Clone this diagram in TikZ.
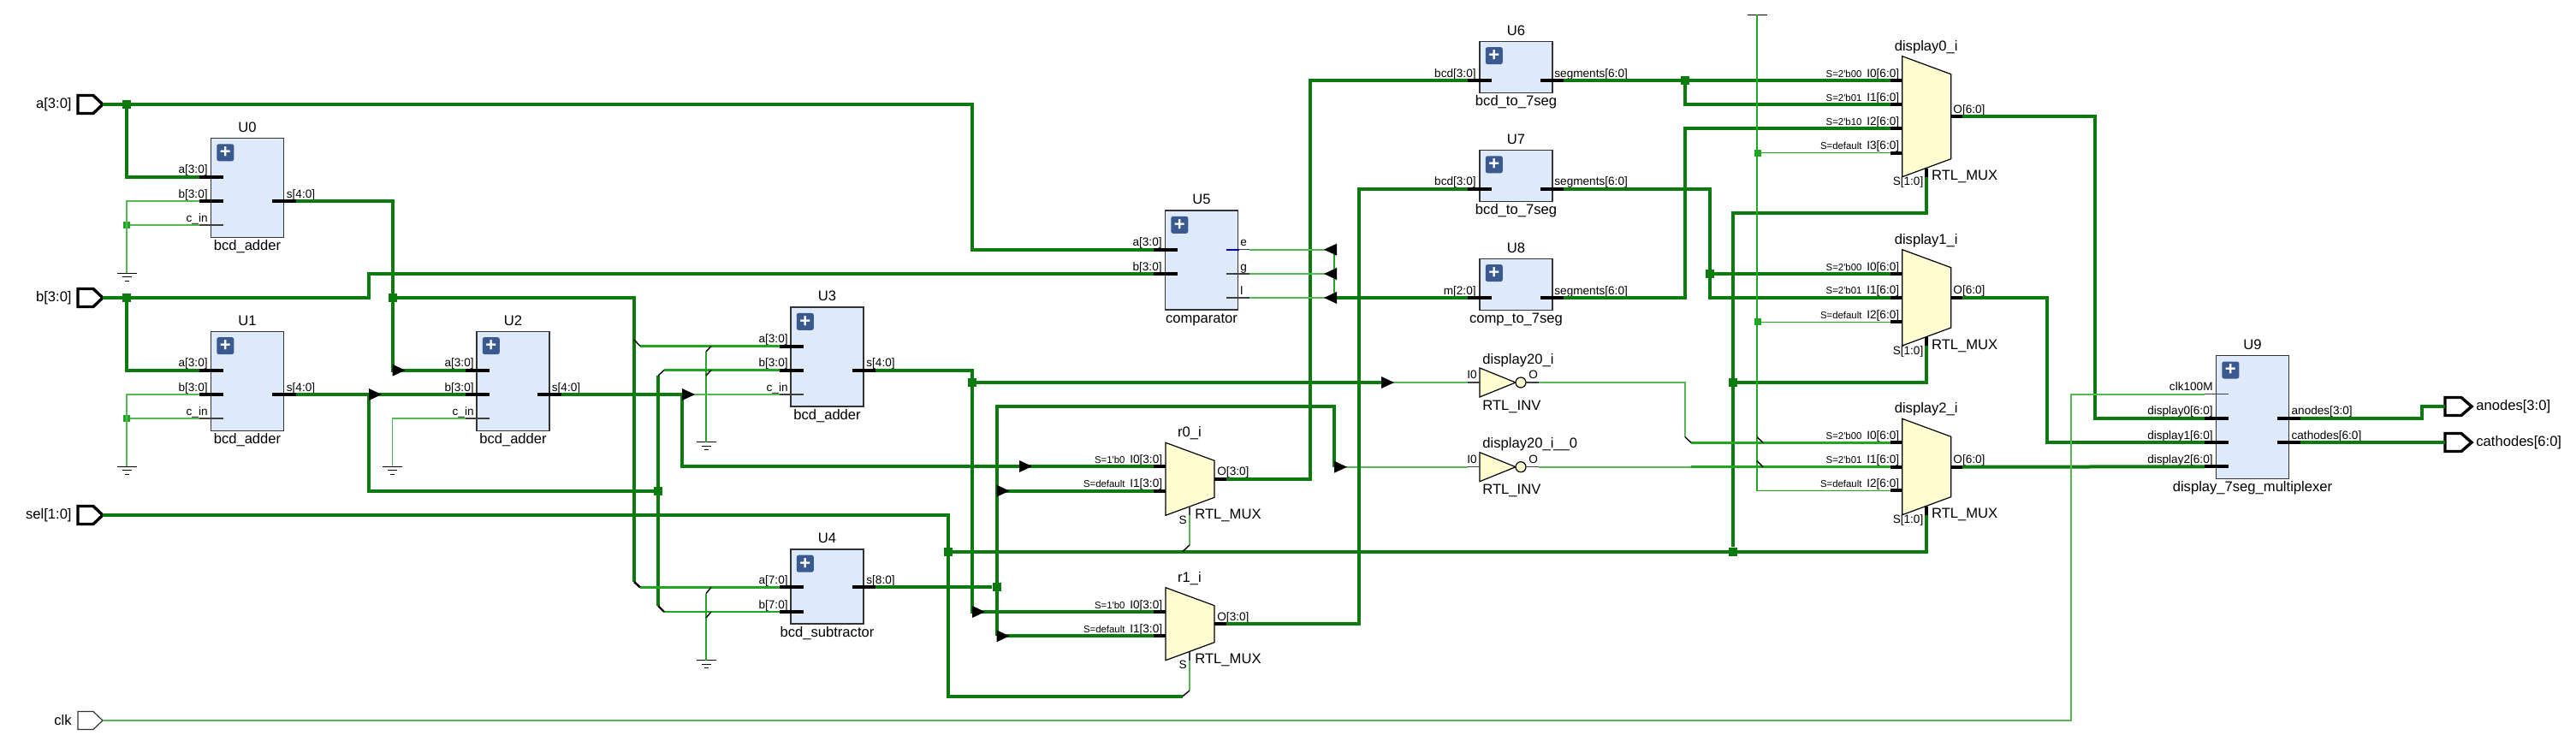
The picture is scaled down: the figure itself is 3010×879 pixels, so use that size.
\documentclass[tikz,border=0pt]{standalone}
\usepackage{fontspec}
\setmainfont{Liberation Sans}
\usetikzlibrary{positioning,arrows.meta,calc}
\definecolor{busgreen}{HTML}{0B7A0F}
\definecolor{netgreen}{HTML}{22A522}
\definecolor{lightgreen}{HTML}{55B855}
\definecolor{blockblue}{HTML}{DEE9F9}
\definecolor{btnblue}{HTML}{3A5A8F}
\definecolor{muxyellow}{HTML}{FEFCD0}
\tikzset{
    bus/.style={draw=busgreen,line width=2pt},
    net/.style={draw=netgreen,line width=1.4pt},
    thinnet/.style={draw=lightgreen,line width=0.8pt},
    rip/.style={draw=black,line width=0.7pt},
    pinbus/.style={draw=black,line width=2pt},
    pinthin/.style={draw=black!75,line width=0.6pt},
    portbox/.style={draw=black,line width=1.7pt,fill=white,line join=miter},
    portthin/.style={draw=black!80,line width=0.6pt,fill=white,line join=miter},
    hier/.style={draw=black!80,line width=0.6pt,fill=blockblue,minimum width=42.5pt,inner sep=0pt},
    muxshape/.style={draw=black,line width=0.6pt,fill=muxyellow,line join=miter},
    plusbtn/.style={fill=btnblue,rounded corners=1.2pt,minimum size=10pt,inner sep=0pt,text=white,font=\fontsize{11}{11}\selectfont\bfseries},
    celltext/.style={inner sep=0pt,font=\fontsize{8.3}{10}\selectfont},
    pintext/.style={inner sep=0pt,font=\fontsize{6.8}{8}\selectfont},
    seltext/.style={inner sep=0pt,font=\fontsize{5.7}{7}\selectfont},
    junc/.style={fill=busgreen,minimum size=5pt,inner sep=0pt},
    juncnet/.style={fill=netgreen,minimum size=4pt,inner sep=0pt},
}
% cell with its name above and its type below
\newcommand{\hierblock}[5]{
    \node[hier,minimum height=#4*0.5pt] (#1) at (#2,#3) {};
    \node[plusbtn,anchor=north west] (#1-btn) at ([xshift=3.5pt,yshift=-3.5pt]#1.north west) {+};
    \node[celltext,anchor=base] (#1-name) at ([yshift=3.3pt]#1.north) {#1};
    \node[celltext,anchor=base] (#1-type) at ([yshift=-7.3pt]#1.south) {#5};
}
% pins: the coordinate is the outer end of the stub
\newcommand{\pinleft}[5][pinbus]{
    \coordinate (#2) at (#3,#4);
    \draw[#1] (#2) -- ++(28,0);
    \node[pintext,anchor=base east] (#2-t) at (#3+10,#4-4) {#5};
}
\newcommand{\pinright}[5][pinbus]{
    \coordinate (#2) at (#3+27.5,#4);
    \draw[#1] (#2) -- ++(-27.5,0);
    \node[pintext,anchor=base west] (#2-t) at (#3+16.5,#4-4) {#5};
}
\newcommand{\muxbox}[5]{
    \draw[muxshape] (#2,#3) -- (#2+57,#3+21) -- (#2+57,#3+#4-21) -- (#2,#3+#4) -- cycle;
    \coordinate (#1-s) at (#2+28,#3+#4);
    \node[celltext,anchor=base] (#1-name) at (#2+28,#3-6.5) {#1\_i};
    \node[celltext,anchor=base west] (#1-type) at (#2+34,#3+#4+4) {RTL\_MUX};
    \node[pintext,anchor=base east] (#1-stext) at (#2+25,#3+#4+10) {#5};
}
\newcommand{\muxpin}[5]{
    \coordinate (#1) at (#2,#3);
    \draw[pinbus] (#1) -- ++(14,0);
    \node[pintext,anchor=base east] (#1-t) at (#2+10.5,#3-4) {#4};
    \node[seltext,anchor=base east] (#1-sel) at ([xshift=-2.5pt]#1-t.base west) {#5};
}
\newcommand{\muxout}[4]{
    \coordinate (#1) at (#2+14,#3);
    \draw[pinbus] (#1) -- ++(-14,0);
    \node[pintext,anchor=base west] (#1-t) at (#2+3,#3-4) {#4};
}
\newcommand{\invbox}[3]{
    \draw[muxshape] (1729,#2-17) -- (1771,#2) -- (1729,#2+17) -- cycle;
    \draw[muxshape] (1777,#2) circle (3pt);
    \coordinate (#1-i) at (1715,#2);
    \coordinate (#1-o) at (1798,#2);
    \draw[pinthin] (#1-i) -- ++(14,0);
    \draw[pinthin] (#1-o) -- ++(-15,0);
    \node[pintext,anchor=base east] (#1-it) at (1726,#2-4.5) {I0};
    \node[pintext,anchor=base west] (#1-ot) at (1786,#2-4.5) {O};
    \node[celltext,anchor=base west] (#1-name) at (1732,#2-22) {#3};
    \node[celltext,anchor=base west] (#1-type) at (1732,#2+32) {RTL\_INV};
}
\newcommand{\inport}[4][portbox]{
    \coordinate (#2) at (120,#3);
    \draw[#1] (91,#3-10.5) -- (109,#3-10.5) -- (#2) -- (109,#3+10.5) -- (91,#3+10.5) -- cycle;
    \node[celltext,anchor=east] (#2-t) at (84,#3) {#4};
}
\newcommand{\outport}[3]{
    \coordinate (#1) at (2857,#2);
    \draw[portbox] (#1) -- ++(0,-10.5) -- ++(19,0) -- ++(12,10.5) -- ++(-12,10.5) -- ++(-19,0) -- cycle;
    \node[celltext,anchor=west] (#1-t) at (2893,#2) {#3};
}
\newcommand{\groundsym}[3]{
    \coordinate (#1) at (#2,#3);
    \draw[black,line width=0.5pt] (#2-11.5,#3) -- (#2+11.5,#3) (#2-5.5,#3+4.7) -- (#2+5.5,#3+4.7) (#2-2.5,#3+9) -- (#2+2.5,#3+9);
}
\newcommand{\tipright}[1]{\fill (#1) ++(0,-7) -- ++(15,7) -- ++(-15,7) -- cycle;}
\newcommand{\tipleft}[1]{\fill (#1) ++(0,-7) -- ++(-15,7) -- ++(15,7) -- cycle;}
\begin{document}
\begin{tikzpicture}[x=0.5pt,y=-0.5pt]
    \useasboundingbox (0,0) rectangle (3010,879);
    % cells
    \hierblock{U0}{289}{219.5}{116}{bcd\_adder}
    \hierblock{U1}{289}{445.3}{116}{bcd\_adder}
    \hierblock{U2}{599.5}{445.3}{116}{bcd\_adder}
    \hierblock{U3}{966.5}{417}{116}{bcd\_adder}
    \hierblock{U4}{966.5}{685.4}{87}{bcd\_subtractor}
    \hierblock{U5}{1404}{304}{116}{comparator}
    \hierblock{U6}{1771.5}{78.3}{60}{bcd\_to\_7seg}
    \hierblock{U7}{1771.5}{205.5}{60}{bcd\_to\_7seg}
    \hierblock{U8}{1771.5}{332.3}{60}{comp\_to\_7seg}
    \hierblock{U9}{2632}{487.7}{144}{display\_7seg\_multiplexer}
    \pinleft{U0-a}{233}{206.7}{a[3:0]}
    \pinleft{U0-b}{233}{235}{b[3:0]}
    \pinleft[pinthin]{U0-c}{233}{263}{c\_in}
    \pinright{U0-s}{318}{235}{s[4:0]}
    \pinleft{U1-a}{233}{432.7}{a[3:0]}
    \pinleft{U1-b}{233}{461}{b[3:0]}
    \pinleft[pinthin]{U1-c}{233}{489}{c\_in}
    \pinright{U1-s}{318}{461}{s[4:0]}
    \pinleft{U2-a}{544}{432.7}{a[3:0]}
    \pinleft{U2-b}{544}{461}{b[3:0]}
    \pinleft[pinthin]{U2-c}{544}{489}{c\_in}
    \pinright{U2-s}{628}{461}{s[4:0]}
    \pinleft{U3-a}{911}{404.5}{a[3:0]}
    \pinleft{U3-b}{911}{432.5}{b[3:0]}
    \pinleft[pinthin]{U3-c}{911}{461}{c\_in}
    \pinright{U3-s}{995.5}{432.5}{s[4:0]}
    \pinleft{U4-a}{911}{686.4}{a[7:0]}
    \pinleft{U4-b}{911}{715}{b[7:0]}
    \pinright{U4-s}{995.5}{686.4}{s[8:0]}
    \pinleft{U5-a}{1348}{291.7}{a[3:0]}
    \pinleft{U5-b}{1348}{320}{b[3:0]}
    \pinright[pinthin]{U5-e}{1432.5}{291.7}{e}
    \pinright[pinthin]{U5-g}{1432.5}{320}{g}
    \pinright[pinthin]{U5-l}{1432.5}{348}{l}
    \draw[blue!80!black,line width=1.2pt] (U5-e) ++(-27.5,0) -- ++(15,0);
    \pinleft{U6-i}{1715}{94}{bcd[3:0]}
    \pinright{U6-o}{1799.5}{94}{segments[6:0]}
    \pinleft{U7-i}{1715}{220.7}{bcd[3:0]}
    \pinright{U7-o}{1799.5}{220.7}{segments[6:0]}
    \pinleft{U8-i}{1715}{348}{m[2:0]}
    \pinright{U8-o}{1799.5}{348}{segments[6:0]}
    \pinleft[pinthin]{U9-clk}{2576}{460.7}{clk100M}
    \pinleft{U9-d0}{2576}{488.7}{display0[6:0]}
    \pinleft{U9-d1}{2576}{517}{display1[6:0]}
    \pinleft{U9-d2}{2576}{545.3}{display2[6:0]}
    \pinright{U9-an}{2660.7}{488.7}{anodes[3:0]}
    \pinright{U9-ca}{2660.7}{517}{cathodes[6:0]}
    % muxes and inverters
    \muxbox{r0}{1362}{517.3}{85}{S}
    \muxpin{r0-i0}{1348}{545}{I0[3:0]}{S=1\textquotesingle b0}
    \muxpin{r0-i1}{1348}{573.7}{I1[3:0]}{S=default}
    \muxout{r0-o}{1419}{559.7}{O[3:0]}
    \muxbox{r1}{1362}{686.7}{85}{S}
    \muxpin{r1-i0}{1348}{715}{I0[3:0]}{S=1\textquotesingle b0}
    \muxpin{r1-i1}{1348}{743.3}{I1[3:0]}{S=default}
    \muxout{r1-o}{1419}{729}{O[3:0]}
    \muxbox{display0}{2222.7}{65.7}{141}{S[1:0]}
    \muxpin{d0-i0}{2209}{94}{I0[6:0]}{S=2\textquotesingle b00}
    \muxpin{d0-i1}{2209}{122}{I1[6:0]}{S=2\textquotesingle b01}
    \muxpin{d0-i2}{2209}{150}{I2[6:0]}{S=2\textquotesingle b10}
    \muxpin{d0-i3}{2209}{178.7}{I3[6:0]}{S=default}
    \muxout{d0-o}{2279}{136}{O[6:0]}
    \muxbox{display1}{2222.7}{291.7}{112.3}{S[1:0]}
    \muxpin{d1-i0}{2209}{320}{I0[6:0]}{S=2\textquotesingle b00}
    \muxpin{d1-i1}{2209}{347.7}{I1[6:0]}{S=2\textquotesingle b01}
    \muxpin{d1-i2}{2209}{376.3}{I2[6:0]}{S=default}
    \muxout{d1-o}{2279}{347.7}{O[6:0]}
    \muxbox{display2}{2222.7}{489.3}{112.4}{S[1:0]}
    \muxpin{d2-i0}{2209}{517.3}{I0[6:0]}{S=2\textquotesingle b00}
    \muxpin{d2-i1}{2209}{545.7}{I1[6:0]}{S=2\textquotesingle b01}
    \muxpin{d2-i2}{2209}{573.3}{I2[6:0]}{S=default}
    \muxout{d2-o}{2279}{545.7}{O[6:0]}
    \draw[pinthin] (r0-s) -- ++(0,-10);
    \draw[pinthin] (r1-s) -- ++(0,-10);
    \draw[pinbus] (display0-s) -- ++(0,-10);
    \draw[pinbus] (display1-s) -- ++(0,-10);
    \draw[pinbus] (display2-s) -- ++(0,-10);
    \invbox{inv0}{447}{display20\_i}
    \invbox{inv1}{545.7}{display20\_i\_\_0}
    % ports and supplies
    \inport{pa}{122}{a[3:0]}
    \inport{pb}{348}{b[3:0]}
    \inport{psel}{602}{sel[1:0]}
    \inport[portthin]{pclk}{842}{clk}
    \outport{pan}{475}{anodes[3:0]}
    \outport{pca}{517}{cathodes[6:0]}
    \groundsym{g0}{148}{319}
    \groundsym{g1}{148}{545}
    \groundsym{g2}{458.5}{545}
    \groundsym{g3}{825}{516.5}
    \groundsym{g4}{825}{771.5}
    \coordinate (vcc) at (2053,17);
    \draw[black,line width=0.5pt] (2042,17) -- (2065,17);
    % route points
    \node[junc] (jA) at (148,122) {};
    \node[junc] (jB) at (148,348) {};
    \node[juncnet] (jC) at (148,263) {};
    \node[juncnet] (jD) at (148,489) {};
    \node[junc] (jE) at (458.5,348) {};
    \node[junc] (jF) at (769,574) {};
    \node[junc] (jG) at (1136,447) {};
    \node[junc] (jH) at (1164.5,686.4) {};
    \node[junc] (jI) at (1108,644.6) {};
    \node[junc] (jJ) at (2025,644.6) {};
    \node[junc] (jK) at (2025,446.7) {};
    \node[junc] (jL) at (1969,94) {};
    \node[junc] (jM) at (1998,320) {};
    \node[juncnet] (jN) at (2054,178.7) {};
    \node[juncnet] (jO) at (2054,376.3) {};
    \coordinate (aTop) at (1136,122);
    \coordinate (bRise) at (431,348);
    \coordinate (t1) at (458.5,432.7);
    \coordinate (t2) at (431,461);
    \coordinate (t3) at (797,461);
    \coordinate (t4) at (1191,545);
    \coordinate (t5) at (1136,715);
    \coordinate (t6) at (1614,447);
    \coordinate (t7) at (1559,545.7);
    \coordinate (t8) at (1164.5,573.7);
    \coordinate (t9) at (1164.5,743.3);
    \coordinate (t10) at (1562,291.7);
    \coordinate (t11) at (1562,320);
    \coordinate (t12) at (1562,348);
    \coordinate (hTop) at (1164.5,475);
    \coordinate (colA) at (1559,291.7);
    \coordinate (colB) at (1559,348);
    \coordinate (rA1) at (741,397);
    \coordinate (rA1e) at (748,404.5);
    \coordinate (rA2) at (741,680);
    \coordinate (rA2e) at (748,686.4);
    \coordinate (rB1) at (769,439);
    \coordinate (rB1e) at (776,432.5);
    \coordinate (rB2) at (769,708);
    \coordinate (rB2e) at (776,715);
    \coordinate (sCor) at (1108,813.6);
    \coordinate (sRip) at (1382,813.6);
    \coordinate (sRipE) at (1390,807);
    \coordinate (sMid) at (1382,644.6);
    \coordinate (sMidE) at (1390,637);
    \coordinate (dTop) at (2025,249);
    \coordinate (up6) at (1531,200);
    \coordinate (up7) at (1587.6,300);
    \coordinate (up8) at (1969,250);
    \coordinate (dn7) at (1998,300);
    \coordinate (rC1) at (1969,510.7);
    \coordinate (rC1e) at (1976,517.3);
    \coordinate (rC2) at (1976,545.7);
    \coordinate (out0) at (2448,300);
    \coordinate (out1) at (2392,430);
    \coordinate (clkCor) at (2420,842);
    \coordinate (anCor) at (2830,480);
    % wires
    \draw[bus] (pa) -- (aTop) |- (U5-a);
    \draw[bus] (jA) |- (U0-a);
    \draw[bus] (pb) -- (bRise) |- (U5-b);
    \draw[bus] (jB) |- (U1-a);
    \draw[thinnet] (U0-b) -| (g0);
    \draw[thinnet] (U0-c) -- (jC);
    \draw[thinnet] (U1-b) -| (g1);
    \draw[thinnet] (U1-c) -- (jD);
    \draw[thinnet] (U2-c) -| (g2);
    \draw[bus] (U0-s) -| (t1) -- (U2-a);
    \draw[bus] (jE) -| (rA2);
    \draw[bus] (U1-s) -- (U2-b);
    \draw[bus] (t2) |- (jF);
    \draw[bus] (rB1) -- (rB2);
    \draw[net] (rA1e) -- (U3-a);
    \draw[net] (rA2e) -- (U4-a);
    \draw[net] (rB1e) -- (U3-b);
    \draw[net] (rB2e) -- (U4-b);
    \draw[netgreen,line width=0.7pt] (825,411) -- (g3);
    \draw[netgreen,line width=0.7pt] (825,693.5) -- (g4);
    \draw[bus] (U2-s) -- (t3) |- (t4) -- (r0-i0);
    \draw[thinnet] (t3) -- (U3-c);
    \draw[bus] (U3-s) -| (t5) -- (r1-i0);
    \draw[bus] (jG) -- (t6);
    \draw[thinnet] (t6) -- (inv0-i);
    \draw[bus] (U4-s) -- (jH);
    \draw[bus] (t9) -- (hTop) -| (t7);
    \draw[thinnet] (t7) -- (inv1-i);
    \draw[bus] (t8) -- (r0-i1);
    \draw[bus] (t9) -- (r1-i1);
    \draw[bus] (psel) -| (sCor) -- (sRip);
    \draw[bus] (jI) -| (display2-s);
    \draw[thinnet] (sRipE) -- (r1-s);
    \draw[thinnet] (sMidE) -- (r0-s);
    \draw[bus] (jK) -| (display1-s);
    \draw[bus] (jJ) -- (dTop) -| (display0-s);
    \draw[bus] (r0-o) -| (up6) |- (U6-i);
    \draw[bus] (r1-o) -| (up7) |- (U7-i);
    \draw[thinnet] (U5-e) -- (t10);
    \draw[thinnet] (U5-g) -- (t11);
    \draw[thinnet] (U5-l) -- (t12);
    \draw[bus] (U8-i) -- (colB);
    \draw[net] (colA) -- (colB);
    \draw[bus] (U6-o) -- (d0-i0);
    \draw[bus] (jL) |- (d0-i1);
    \draw[bus] (U8-o) -| (up8) |- (d0-i2);
    \draw[bus] (U7-o) -| (dn7) |- (d1-i1);
    \draw[bus] (jM) -- (d1-i0);
    \draw[thinnet] (inv0-o) -| (rC1);
    \draw[net] (rC1e) -- (d2-i0);
    \draw[thinnet] (inv1-o) -- (rC2);
    \draw[net] (rC2) -- (d2-i1);
    \draw[netgreen,line width=0.7pt] (vcc) |- (d2-i2);
    \draw[netgreen,line width=0.7pt] (jN) -- (d0-i3);
    \draw[netgreen,line width=0.7pt] (jO) -- (d1-i2);
    \draw[bus] (d0-o) -| (out0) |- (U9-d0);
    \draw[bus] (d1-o) -| (out1) |- (U9-d1);
    \draw[bus] (d2-o) -- (U9-d2);
    \draw[thinnet] (pclk) -- (clkCor) |- (U9-clk);
    \draw[bus] (U9-an) -| (anCor) |- (pan);
    \draw[bus] (U9-ca) -- (pca);
    % rippers
    \draw[rip] (rA1) -- (rA1e);
    \draw[rip,line width=1.2pt] (rA2) -- (rA2e);
    \draw[rip] (rB1) -- (rB1e);
    \draw[rip,line width=1.2pt] (rB2) -- (rB2e);
    \draw[rip] (825,411) -- (831,404.5);
    \draw[rip] (825,439) -- (831,432.5);
    \draw[rip] (825,693.5) -- (831,686.4);
    \draw[rip] (825,722) -- (831,715);
    \draw[rip] (sRip) -- (sRipE);
    \draw[rip] (sMid) -- (sMidE);
    \draw[rip] (rC1) -- (rC1e);
    \draw[rip] (2053,510.7) -- (2060,517.3);
    \draw[rip] (2053,538.7) -- (2060,545.7);
    % arrow tips on top
    \tipright{t1}
    \tipright{t2}
    \tipright{t3}
    \tipright{t4}
    \tipright{t5}
    \tipright{t6}
    \tipright{t7}
    \tipright{t8}
    \tipright{t9}
    \tipleft{t10}
    \tipleft{t11}
    \tipleft{t12}
\end{tikzpicture}
\end{document}
